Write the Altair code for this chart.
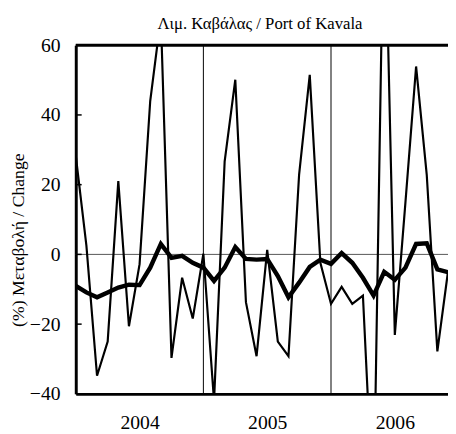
import altair as alt
import pandas as pd

# ---- data (monthly, Jan 2004 - Dec 2006) ----
months = list(range(36))
monthly_change = [28.3, 2.5, -34.8, -25.0, 21.0, -20.6, -2.8, 44.0, 68.0, -29.7, -6.7, -18.4,
                  0.2, -42.0, 26.7, 50.1, -13.7, -29.2, 1.3, -25.0, -29.2, 22.9, 51.5, -2.4,
                  -14.2, -9.3, -14.2, -11.8, -75.0, 110.0, -23.1, 15.0, 53.9, 22.9, -27.8, -4.9]
trend_change = [-9.0, -10.9, -12.3, -10.9, -9.5, -8.7, -8.8, -3.8, 3.0, -1.0, -0.4, -2.4,
                -3.8, -7.6, -3.8, 2.1, -1.3, -1.5, -1.3, -6.2, -12.3, -8.1, -3.6, -1.5,
                -2.7, 0.4, -2.4, -6.7, -11.8, -5.0, -7.3, -3.8, 3.0, 3.2, -4.3, -5.1]
year_labels = ["2004", "2005", "2006"]
year_label_pos = [6, 18, 30]
year_bounds = [12, 24]
y_ticks = [-40, -20, 0, 20, 40, 60]

FONT = "Liberation Serif"
PLOT_W, PLOT_H = 379, 355

df = pd.DataFrame({"m": months, "thin": monthly_change, "thick": trend_change})

label_expr = "[" + ",".join("'%s'" % s for s in year_labels) + "][(datum.value - %d) / 12]" % year_label_pos[0]

x_scale = alt.Scale(domain=[0, 35], nice=False, zero=False)
y_scale = alt.Scale(domain=[-40, 60], nice=False, zero=False)

x_axis = alt.Axis(values=year_label_pos, labelExpr=label_expr, ticks=False, grid=False,
                  domainColor="black", domainWidth=3, labelColor="black", labelPadding=35,
                  labelFontSize=20, title=None, labelBaseline="alphabetic")
y_axis = alt.Axis(values=y_ticks, ticks=False, grid=False, domainColor="black", domainWidth=3,
                  labelColor="black", labelPadding=16, labelFontSize=20,
                  title="(%) Μεταβολή  / Change", titleColor="black", titleFontSize=18,
                  titleFontWeight="normal", titleX=-49, titleY=198)


def X(field):
    return alt.X(f"{field}:Q", scale=x_scale, axis=x_axis)


def Y(field):
    return alt.Y(f"{field}:Q", scale=y_scale, axis=y_axis)


zero_rule = alt.Chart(pd.DataFrame({"thin": [0]})).mark_rule(color="#555555", strokeWidth=1).encode(
    y=Y("thin"))
year_rules = alt.Chart(pd.DataFrame({"m": year_bounds})).mark_rule(color="black", strokeWidth=1).encode(
    x=X("m"))
thin_line = alt.Chart(df).mark_line(color="black", strokeWidth=2.2, clip=True).encode(
    x=X("m"), y=Y("thin"))
thick_line = alt.Chart(df).mark_line(color="black", strokeWidth=4.5, clip=True).encode(
    x=X("m"), y=Y("thick"))
tick_marks = alt.Chart(pd.DataFrame({"thin": y_ticks})).mark_rule(color="black", strokeWidth=1.5).encode(
    y=Y("thin"), x=alt.value(0), x2=alt.value(6))
top_border = alt.Chart(pd.DataFrame({"a": [0]})).mark_rule(color="black", strokeWidth=3).encode(
    y=alt.value(0), x=alt.value(0), x2=alt.value(PLOT_W))

chart = alt.layer(zero_rule, year_rules, thin_line, thick_line, tick_marks, top_border).properties(
    width=PLOT_W, height=PLOT_H,
    title=alt.TitleParams("Λιμ. Καβάλας / Port of Kavala", anchor="middle", dx=-2, offset=2,
                          fontSize=17, fontWeight="normal", color="black"),
    autosize=alt.AutoSizeParams(type="none"),
    padding={"left": 69, "top": 34, "right": 0, "bottom": 38},
).configure(font=FONT, view=alt.ViewConfig(stroke=None))

chart.save("out.html", embed_options={"renderer": "svg", "actions": False})
